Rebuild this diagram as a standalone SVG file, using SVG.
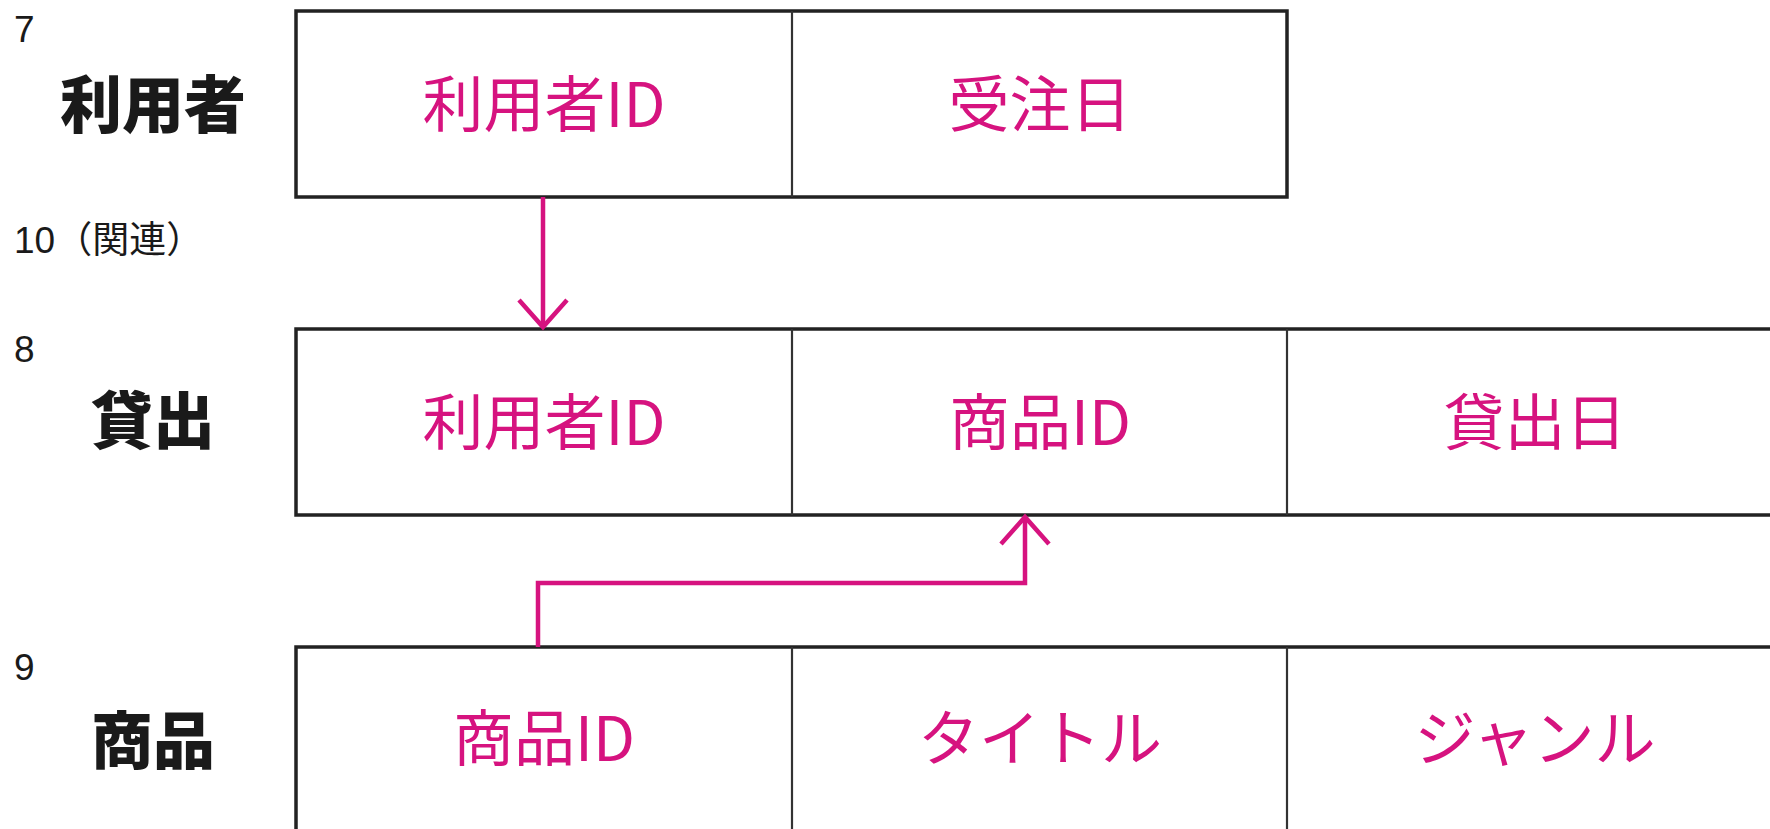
<svg xmlns="http://www.w3.org/2000/svg" width="1770" height="829" viewBox="0 0 1770 829">
  <style>
    .box { fill: #ffffff; stroke: #222222; stroke-width: 3.5; }
    .div { stroke: #333333; stroke-width: 2.2; }
    .field { font-family: "Noto Sans CJK JP", "Noto Sans", sans-serif; font-size: 61px; fill: #D6137F; text-anchor: middle; }
    .ent { font-family: "Noto Sans CJK JP", sans-serif; font-size: 62px; font-weight: 900; fill: #1a1a1a; text-anchor: middle; }
    .num { font-family: "Liberation Sans", "Noto Sans CJK JP", sans-serif; font-size: 37px; fill: #1a1a1a; }
    .conn { fill: none; stroke: #D6137F; stroke-width: 4.5; }
  </style>
  <defs>
    <marker id="chev" markerUnits="userSpaceOnUse" viewBox="-32 -30 40 60" markerWidth="40" markerHeight="60" refX="0" refY="0" orient="auto">
      <path d="M-27,-24 L0,0 L-27,24" fill="none" stroke="#D6137F" stroke-width="4.5"/>
    </marker>
  </defs>
  <rect width="1770" height="829" fill="#ffffff"/>

  <g id="node-riyousha">
    <text class="num" x="14" y="42">7</text>
    <text class="ent" x="153" y="128">利用者</text>
    <rect class="box" x="296" y="11" width="991" height="186"/>
    <line class="div" x1="792" y1="11" x2="792" y2="197"/>
    <text class="field" x="544" y="127">利用者ID</text>
    <text class="field" x="1040" y="127">受注日</text>
  </g>

  <g id="label-kanren">
    <text class="num" x="14" y="253">10（関連）</text>
  </g>

  <g id="node-kashidashi">
    <text class="num" x="14" y="362">8</text>
    <text class="ent" x="153" y="444">貸出</text>
    <rect class="box" x="296" y="329" width="1520" height="186"/>
    <line class="div" x1="792" y1="329" x2="792" y2="515"/>
    <line class="div" x1="1287" y1="329" x2="1287" y2="515"/>
    <text class="field" x="544" y="445">利用者ID</text>
    <text class="field" x="1040" y="445">商品ID</text>
    <text class="field" x="1535" y="445">貸出日</text>
  </g>

  <g id="node-shouhin">
    <text class="num" x="14" y="680">9</text>
    <text class="ent" x="153" y="764">商品</text>
    <rect class="box" x="296" y="647" width="1520" height="220"/>
    <line class="div" x1="792" y1="647" x2="792" y2="867"/>
    <line class="div" x1="1287" y1="647" x2="1287" y2="867"/>
    <text class="field" x="544" y="761">商品ID</text>
    <text class="field" x="1040" y="761">タイトル</text>
    <text class="field" x="1535" y="761">ジャンル</text>
  </g>

  <g id="connectors">
    <path class="conn" d="M543,197 L543,327" marker-end="url(#chev)"/>
    <path class="conn" d="M538,647 L538,583 L1025,583 L1025,517" marker-end="url(#chev)"/>
  </g>
</svg>
